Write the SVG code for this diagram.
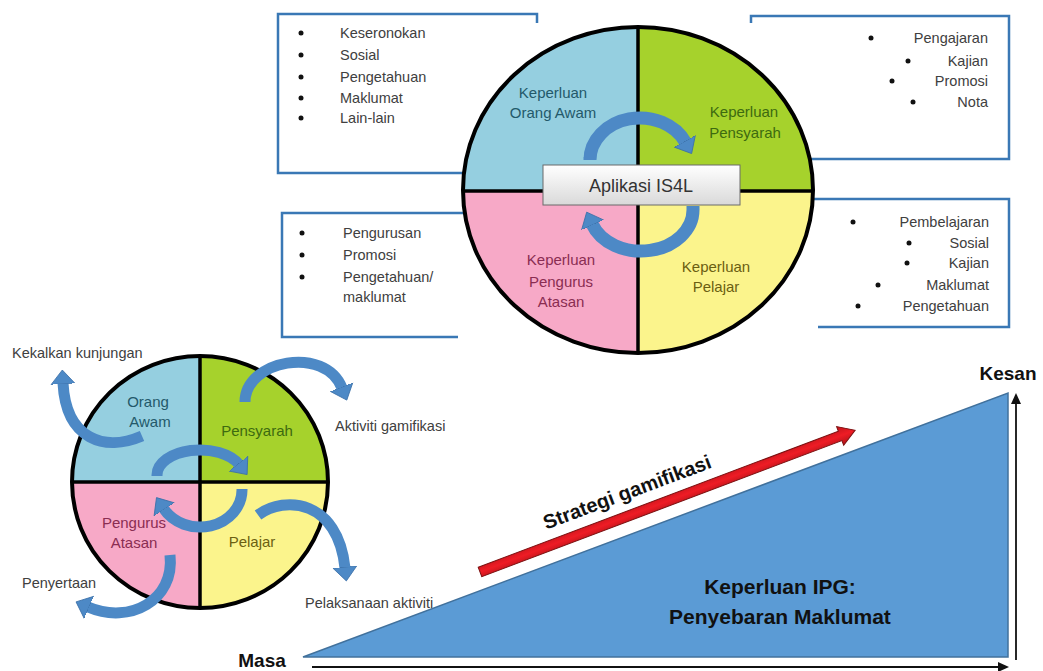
<svg xmlns="http://www.w3.org/2000/svg" width="1043" height="671" viewBox="0 0 1043 671">
<style>
  .t { font-family: "Liberation Sans", Arial, sans-serif; font-size: 14.5px; fill: #404040; }
  .tr { text-anchor: end; }
  .c { text-anchor: middle; font-family: "Liberation Sans", Arial, sans-serif; font-size: 15px; }
  .b { font-family: "Liberation Sans", Arial, sans-serif; font-weight: bold; fill: #111; }
  .box { fill: none; stroke: #3a78b5; stroke-width: 2.5; }
  .dot { fill: #111; }
  .div { stroke: #000; stroke-width: 3.5; }
  .rim { fill: none; stroke: #000; stroke-width: 4; }
  .arr { fill: none; stroke: #4d89c6; stroke-linecap: butt; marker-end: url(#ah); }
  .ax { stroke: #111; stroke-width: 1.8; fill: none; }
</style>
<defs>
  <marker id="ah" markerUnits="userSpaceOnUse" markerWidth="15" markerHeight="26" viewBox="0 -13 15 26" refX="1" refY="0" orient="auto">
    <path d="M0,-12 L14,0 L0,12 Z" fill="#4d89c6" stroke="#3c70a8" stroke-width="0.8"/>
  </marker>
  <marker id="axh" markerUnits="userSpaceOnUse" markerWidth="12" markerHeight="12" viewBox="0 -6 12 12" refX="2" refY="0" orient="auto">
    <path d="M0,-5 L11,0 L0,5 Z" fill="#111"/>
  </marker>
  <linearGradient id="appg" x1="0" y1="0" x2="0" y2="1">
    <stop offset="0" stop-color="#ffffff"/>
    <stop offset="1" stop-color="#d9d9d9"/>
  </linearGradient>
  <linearGradient id="redg" x1="0" y1="0" x2="0" y2="1">
    <stop offset="0" stop-color="#c0141b"/>
    <stop offset="0.5" stop-color="#ee1c25"/>
    <stop offset="1" stop-color="#b01218"/>
  </linearGradient>
</defs>
<rect width="1043" height="671" fill="#ffffff"/>

<!-- Info boxes -->
<g id="box-orang-awam">
  <path class="box" d="M537,23 V14 H278 V173 H466"/>
  <circle class="dot" cx="301" cy="33" r="2.5"/><text class="t" x="340" y="38">Keseronokan</text>
  <circle class="dot" cx="301" cy="55" r="2.5"/><text class="t" x="340" y="60">Sosial</text>
  <circle class="dot" cx="301" cy="77" r="2.5"/><text class="t" x="340" y="82">Pengetahuan</text>
  <circle class="dot" cx="301" cy="98" r="2.5"/><text class="t" x="340" y="103">Maklumat</text>
  <circle class="dot" cx="301" cy="118" r="2.5"/><text class="t" x="340" y="123">Lain-lain</text>
</g>
<g id="box-pensyarah">
  <path class="box" d="M751,23 V16 H1009 V159 H808"/>
  <circle class="dot" cx="871" cy="38" r="2.5"/><text class="t tr" x="988" y="43">Pengajaran</text>
  <circle class="dot" cx="908" cy="61" r="2.5"/><text class="t tr" x="988" y="66">Kajian</text>
  <circle class="dot" cx="892" cy="81" r="2.5"/><text class="t tr" x="988" y="86">Promosi</text>
  <circle class="dot" cx="913" cy="102" r="2.5"/><text class="t tr" x="988" y="107">Nota</text>
</g>
<g id="box-pengurus">
  <path class="box" d="M466,213 H282 V337 H458"/>
  <circle class="dot" cx="302" cy="233" r="2.5"/><text class="t" x="343" y="238">Pengurusan</text>
  <circle class="dot" cx="302" cy="255" r="2.5"/><text class="t" x="343" y="260">Promosi</text>
  <circle class="dot" cx="302" cy="277" r="2.5"/><text class="t" x="343" y="282">Pengetahuan/</text>
  <text class="t" x="343" y="302">maklumat</text>
</g>
<g id="box-pelajar">
  <path class="box" d="M810,199 H1009 V327 H818"/>
  <circle class="dot" cx="853" cy="222" r="2.5"/><text class="t tr" x="989" y="227">Pembelajaran</text>
  <circle class="dot" cx="909" cy="243" r="2.5"/><text class="t tr" x="989" y="248">Sosial</text>
  <circle class="dot" cx="907" cy="263" r="2.5"/><text class="t tr" x="989" y="268">Kajian</text>
  <circle class="dot" cx="878" cy="285" r="2.5"/><text class="t tr" x="989" y="290">Maklumat</text>
  <circle class="dot" cx="858" cy="306" r="2.5"/><text class="t tr" x="989" y="311">Pengetahuan</text>
</g>

<!-- Big circle -->
<g id="big-circle">
  <path d="M638,190 L463,190 A175,163 0 0 1 638,27 Z" fill="#95cfe0"/>
  <path d="M638,190 L638,27 A175,163 0 0 1 813,190 Z" fill="#a6d22c"/>
  <path d="M638,190 L813,190 A175,163 0 0 1 638,353 Z" fill="#fbf48c"/>
  <path d="M638,190 L638,353 A175,163 0 0 1 463,190 Z" fill="#f7a9c7"/>
  <line class="div" x1="463" y1="191" x2="813" y2="191"/>
  <line class="div" x1="638" y1="27" x2="638" y2="353"/>
  <ellipse class="rim" cx="638" cy="190" rx="175" ry="163"/>
  <text class="c" fill="#23596a" x="553" y="98">Keperluan</text>
  <text class="c" fill="#23596a" x="553" y="118">Orang Awam</text>
  <text class="c" fill="#3d6a10" x="744" y="117">Keperluan</text>
  <text class="c" fill="#3d6a10" x="745" y="138">Pensyarah</text>
  <text class="c" fill="#8a2d52" x="561" y="265">Keperluan</text>
  <text class="c" fill="#8a2d52" x="561" y="287">Pengurus</text>
  <text class="c" fill="#8a2d52" x="561" y="307">Atasan</text>
  <text class="c" fill="#6b5f12" x="716" y="272">Keperluan</text>
  <text class="c" fill="#6b5f12" x="716" y="292">Pelajar</text>
</g>

<!-- Small circle -->
<g id="small-circle">
  <path d="M200,482 L72,482 A128,126 0 0 1 200,356 Z" fill="#95cfe0"/>
  <path d="M200,482 L200,356 A128,126 0 0 1 328,482 Z" fill="#a6d22c"/>
  <path d="M200,482 L328,482 A128,126 0 0 1 200,608 Z" fill="#fbf48c"/>
  <path d="M200,482 L200,608 A128,126 0 0 1 72,482 Z" fill="#f7a9c7"/>
  <line class="div" x1="72" y1="482" x2="328" y2="482" stroke-width="3"/>
  <line class="div" x1="200" y1="356" x2="200" y2="608" stroke-width="3"/>
  <ellipse class="rim" cx="200" cy="482" rx="128" ry="126" stroke-width="3.2"/>
  <text class="c" fill="#23596a" x="148" y="407">Orang</text>
  <text class="c" fill="#23596a" x="150" y="427">Awam</text>
  <text class="c" fill="#3d6a10" x="257" y="436">Pensyarah</text>
  <text class="c" fill="#8a2d52" x="134" y="528">Pengurus</text>
  <text class="c" fill="#8a2d52" x="134" y="548">Atasan</text>
  <text class="c" fill="#6b5f12" x="252" y="547">Pelajar</text>
</g>

<!-- Outer labels -->
<g id="outer-labels">
  <text class="t" x="12" y="358" fill="#333">Kekalkan kunjungan</text>
  <text class="t" x="335" y="431" fill="#333">Aktiviti gamifikasi</text>
  <text class="t" x="22" y="588" fill="#333">Penyertaan</text>
  <text class="t" x="305" y="608" fill="#333">Pelaksanaan aktiviti</text>
</g>

<!-- Triangle chart -->
<g id="triangle">
  <polygon points="303,657 1008,393 1008,657" fill="#5b9bd5" stroke="#41719c" stroke-width="1.5"/>
  <text class="b" x="780" y="594" text-anchor="middle" font-size="21" fill="#1c2b45">Keperluan IPG:</text>
  <text class="b" x="780" y="624" text-anchor="middle" font-size="21" fill="#1c2b45">Penyebaran Maklumat</text>
</g>
<g id="axes">
  <line class="ax" x1="1016" y1="660" x2="1016" y2="402" marker-end="url(#axh)"/>
  <line class="ax" x1="312" y1="667" x2="1000" y2="667" marker-end="url(#axh)"/>
  <text class="b" x="1008" y="380" text-anchor="middle" font-size="19">Kesan</text>
  <text class="b" x="262" y="667" text-anchor="middle" font-size="19">Masa</text>
</g>
<g id="strategi">
  <g transform="translate(480,572) rotate(-20.7)">
    <path d="M0,-5 H385 V-10 L401,0 L385,10 V5 H0 Z" fill="url(#redg)" stroke="#7a1010" stroke-width="1"/>
  </g>
  <text class="b" transform="translate(627,492) rotate(-20.5)" x="0" y="7" text-anchor="middle" font-size="20">Strategi gamifikasi</text>
</g>

<!-- Curved arrows -->
<g id="connectors">
  <path class="arr" stroke-width="13" d="M590,157 L590,160 A50,42 0 0 1 685.3,142.2"/>
  <path class="arr" stroke-width="13" d="M693,206 L693,210 A52,41 0 0 1 592.1,224"/>
  <path class="arr" stroke-width="11" d="M157,476 L157,475 A43,25 0 0 1 239,464.4"/>
  <path class="arr" stroke-width="11" d="M242,489 L242,490 A42,37 0 0 1 163.6,508.5"/>
  <path class="arr" stroke-width="11" d="M142,436 C105,452 66,440 63,383"/>
  <path class="arr" stroke-width="11" d="M245,402 C245,360 325,345 342,388"/>
  <path class="arr" stroke-width="11" d="M258,515 C285,495 338,500 345,568"/>
  <path class="arr" stroke-width="11" d="M170,555 C175,600 130,625 88,607"/>
</g>

<g id="app-box">
  <rect x="543" y="165" width="197" height="40" fill="url(#appg)" stroke="#6b6b6b" stroke-width="1"/>
  <text x="641" y="192" text-anchor="middle" font-family="Liberation Sans, Arial, sans-serif" font-size="18" fill="#333">Aplikasi IS4L</text>
</g>
</svg>
